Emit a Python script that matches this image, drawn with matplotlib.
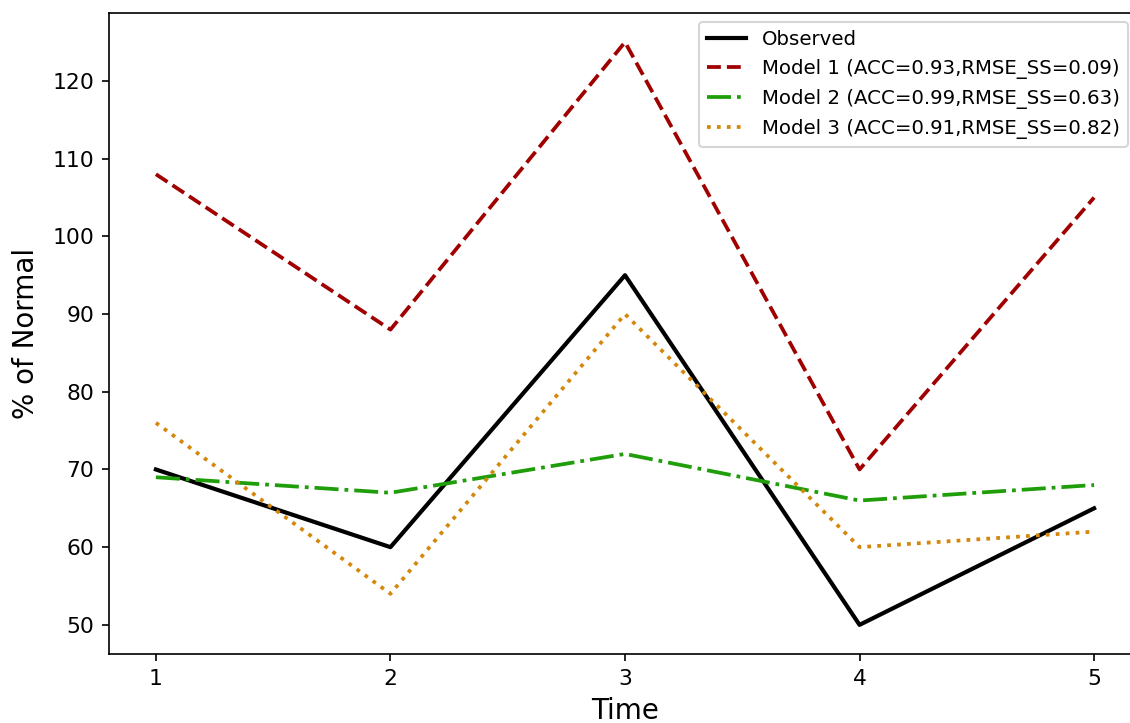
import matplotlib
matplotlib.use("Agg")
import matplotlib.pyplot as plt

time = [1, 2, 3, 4, 5]
observed = [70, 60, 95, 50, 65]
model1 = [108, 88, 125, 70, 105]
model2 = [69, 67, 72, 66, 68]
model3 = [76, 54, 90, 60, 62]
labels = ["Observed",
          "Model 1 (ACC=0.93,RMSE_SS=0.09)",
          "Model 2 (ACC=0.99,RMSE_SS=0.63)",
          "Model 3 (ACC=0.91,RMSE_SS=0.82)"]

fig = plt.figure(figsize=(1130/150, 723/150), dpi=150)
ax = fig.add_axes([109/1130, 69/723, (1141-109)/1130, (654-13)/723])
ax.plot(time, observed, color="black", lw=2, ls="-", label=labels[0])
ax.plot(time, model1, color="#a00000", lw=1.8, ls="--", label=labels[1])
ax.plot(time, model2, color="#1f9e0a", lw=1.8, ls="-.", label=labels[2])
ax.plot(time, model3, color="#d4870a", lw=1.8, ls=":", label=labels[3])
ax.set_xticks(time)
ax.set_xlabel("Time", fontsize=13.3, labelpad=4)
ax.set_ylabel("% of Normal", fontsize=13.3, labelpad=6)
ax.tick_params(labelsize=10.5)
ax.legend(loc="upper right", fontsize=9.5, borderaxespad=0,
          bbox_to_anchor=(1128/1130, (723-22)/723),
          bbox_transform=fig.transFigure)
fig.savefig("out.png", dpi=150)
